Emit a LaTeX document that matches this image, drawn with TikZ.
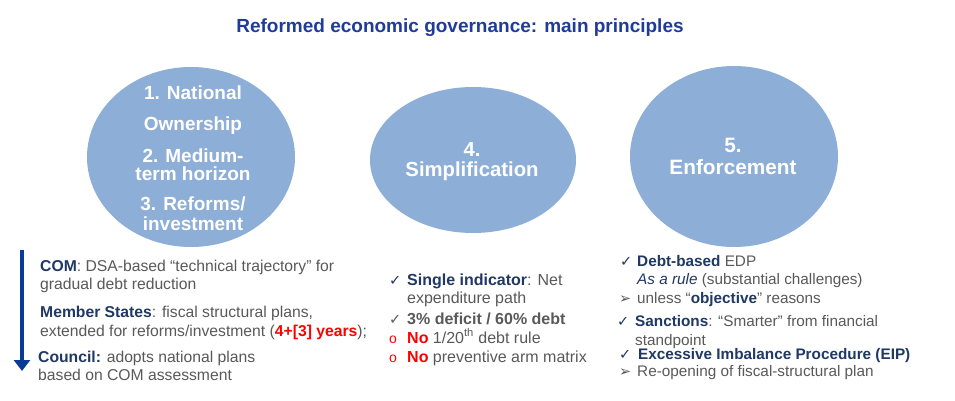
\documentclass[tikz,border=0pt]{standalone}
\usepackage{fontspec}
\setmainfont{Liberation Sans}
\newfontfamily\dvs{DejaVu Sans}
\usetikzlibrary{arrows.meta,shapes.geometric}
\definecolor{ellfill}{HTML}{8DAED6}
\definecolor{navy}{HTML}{1F3864}
\definecolor{titleblue}{HTML}{1F3C99}
\definecolor{txtgray}{HTML}{595959}
\definecolor{arrowblue}{HTML}{0A3A98}
\definecolor{redtxt}{HTML}{FF0000}
\newcommand{\nv}[1]{{\color{navy}\bfseries #1}}
\newcommand{\rd}[1]{{\color{redtxt}\bfseries #1}}
\newcommand{\chkn}{{\color{navy}\dvs\fontsize{14.5}{14}\selectfont ✓}}
\newcommand{\chkg}{{\color{txtgray}\dvs\fontsize{14.5}{14}\selectfont ✓}}
\newcommand{\arrb}{{\color{txtgray}\dvs\fontsize{14.5}{14}\selectfont ➢}}
\newcommand{\rcirc}{{\color{redtxt}\fontsize{14}{14}\selectfont o}}
\begin{document}
\begin{tikzpicture}[x=1pt,y=-1pt,
  ell/.style={ellipse, fill=ellfill, draw=none, inner sep=0pt},
  etxt/.style={text=white, font=\bfseries\fontsize{19}{19}\selectfont, anchor=base, inner sep=0pt},
  ebig/.style={etxt, font=\bfseries\fontsize{20.8}{21}\selectfont},
  body/.style={anchor=base west, inner sep=0pt, text=txtgray, font=\fontsize{15.7}{18}\selectfont},
  bodym/.style={body, font=\fontsize{16}{18}\selectfont},
  bodyr/.style={body, font=\fontsize{15.3}{18}\selectfont},
  bulletmark/.style={anchor=base west, inner sep=0pt},
  bigarrow/.style={draw=arrowblue, line width=4pt, -{Triangle[width=16pt,length=11pt]}}
]
\useasboundingbox (0,0) rectangle (955,401);
\fill[white] (0,0) rectangle (955,401);

% title
\node[anchor=base, inner sep=0pt, text=titleblue, font=\bfseries\fontsize{19}{19}\selectfont] (title) at (460,33) {Reformed economic governance: main principles};

% ellipses
\node[ell, minimum width=208pt, minimum height=180pt] (e1) at (191,157) {};
\node[ell, minimum width=206pt, minimum height=146pt] (e2) at (473,160) {};
\node[ell, minimum width=208pt, minimum height=181pt] (e3) at (734,156.5) {};

\node[etxt] (e1a) at (193,100) {1. National};
\node[etxt] (e1b) at (193,131) {Ownership};
\node[etxt] (e1c) at (193,162) {2. Medium-};
\node[etxt] (e1d) at (193,180) {term horizon};
\node[etxt] (e1e) at (193,210) {3. Reforms/};
\node[etxt] (e1f) at (193,230) {investment};

\node[ebig, font=\bfseries\fontsize{20.3}{21}\selectfont] (e2a) at (472,157) {4.};
\node[ebig, font=\bfseries\fontsize{20.3}{21}\selectfont] (e2b) at (472,176) {Simplification};

\node[ebig] (e3a) at (733,152) {5.};
\node[ebig] (e3b) at (733,174) {Enforcement};

% left column
\coordinate (arrS) at (22,250);
\coordinate (arrE) at (22,371);
\draw[bigarrow] (arrS) -- (arrE);
\node[body] (l1) at (40,271) {\nv{COM}: DSA-based “technical trajectory” for};
\node[body] (l2) at (40,289) {gradual debt reduction};
\node[body] (l3) at (40,317) {\nv{Member States}: fiscal structural plans,};
\node[body] (l4) at (40,336) {extended for reforms/investment (\rd{4+[3] years});};
\node[body] (l5) at (38,362) {\nv{Council:} adopts national plans};
\node[body] (l6) at (38,380) {based on COM assessment};

% middle column
\node[bulletmark] (m1c) at (389,285) {\chkn};
\node[bodym] (m1) at (407,285) {\nv{Single indicator}: Net};
\node[bodym] (m2) at (407,303) {expenditure path};
\node[bulletmark] (m3c) at (389,324) {\chkg};
\node[bodym] (m3) at (407,324) {\bfseries 3\% deficit / 60\% debt};
\node[bulletmark] (m4c) at (389,343) {\rcirc};
\node[bodym] (m4) at (407,343) {\rd{No} 1/20\textsuperscript{th} debt rule};
\node[bulletmark] (m5c) at (389,362) {\rcirc};
\node[bodym] (m5) at (407,362) {\rd{No} preventive arm matrix};

% right column
\node[bulletmark] (r1c) at (620,266) {\chkn};
\node[bodyr] (r1) at (637,266) {\nv{Debt-based} EDP};
\node[bodyr] (r2) at (637,284) {{\color{navy}\itshape As a rule} (substantial challenges)};
\node[bulletmark] (r3c) at (619,303) {\arrb};
\node[bodyr] (r3) at (637,303) {unless “\nv{objective}” reasons};
\node[bulletmark] (r4c) at (617,326) {\chkn};
\node[bodyr] (r4) at (635,326) {\nv{Sanctions}: “Smarter” from financial};
\node[bodyr] (r5) at (635,345) {standpoint};
\node[bulletmark] (r6c) at (619,359) {\chkn};
\node[bodyr] (r6) at (638,359) {\nv{Excessive Imbalance  Procedure (EIP)}};
\node[bulletmark] (r7c) at (619,376) {\arrb};
\node[bodyr] (r7) at (637,376) {Re-opening of fiscal-structural plan};
\end{tikzpicture}
\end{document}
